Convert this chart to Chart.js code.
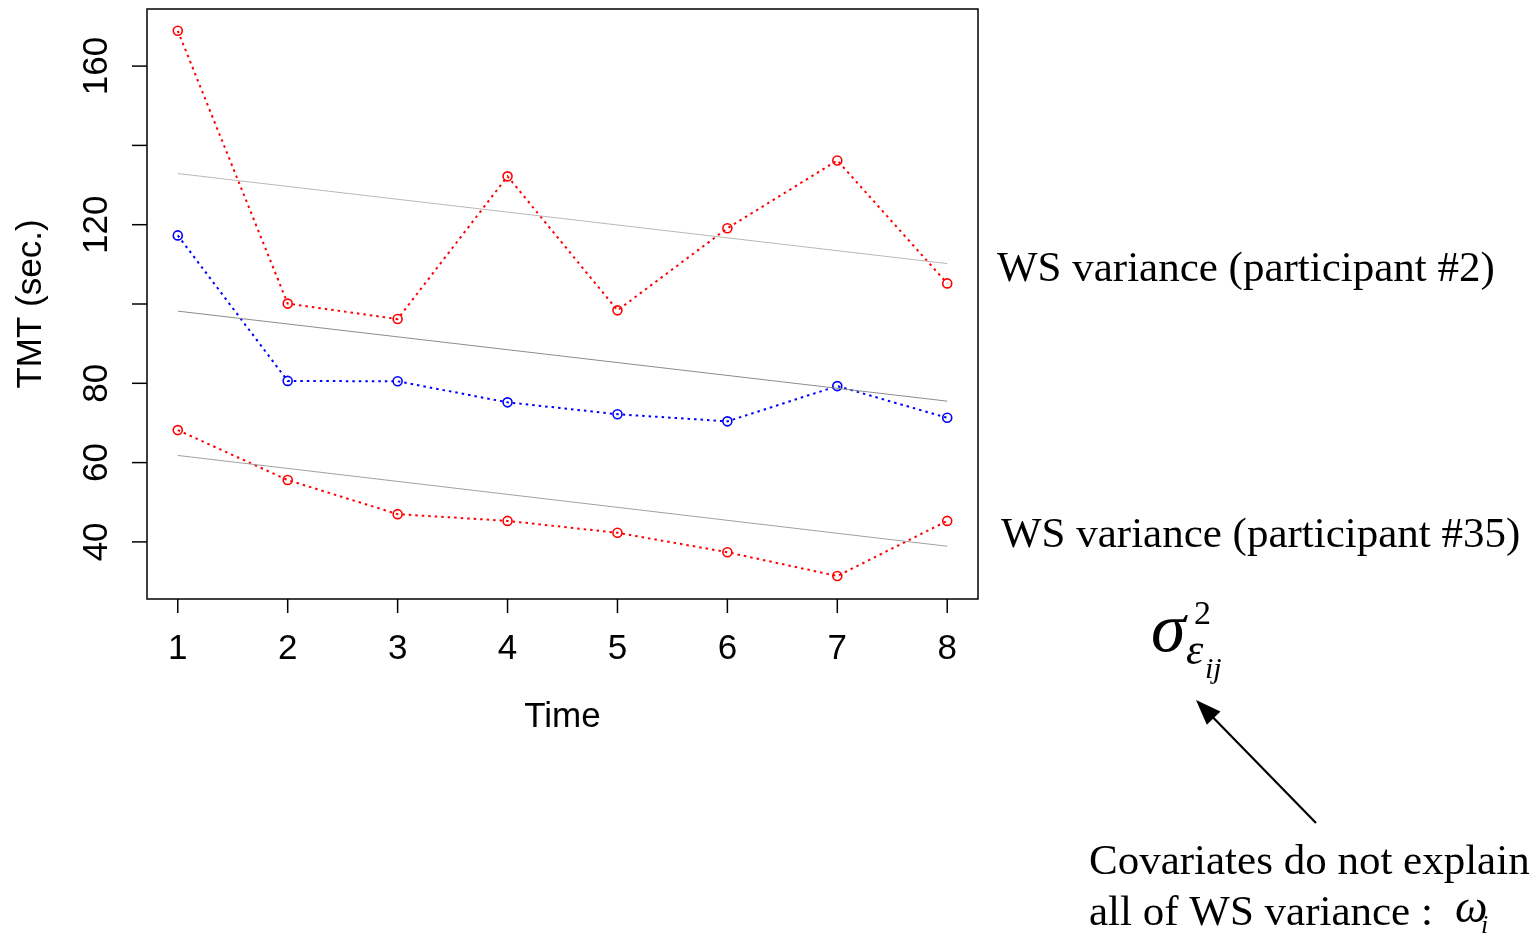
<!DOCTYPE html>
<html>
<head>
<meta charset="utf-8">
<script src="https://cdn.jsdelivr.net/npm/chart.js@4.4.1/dist/chart.umd.min.js"></script>
<style>
  html, body { margin: 0; padding: 0; background: #fff; }
  #tmt { display: block; }
</style>
</head>
<body>
<canvas id="tmt" width="1535" height="935"></canvas>
<script>
// TMT scores over 8 sessions, two participants plus a reference profile
var times          = [1, 2, 3, 4, 5, 6, 7, 8];
var participant2   = [168.9, 100.1, 96.2, 132.2, 98.4, 119.1, 136.2, 105.2];
var reference      = [117.3, 80.6, 80.5, 75.2, 72.2, 70.4, 79.3, 71.3];
var participant35  = [68.2, 55.6, 47.0, 45.3, 42.3, 37.4, 31.4, 45.3];

// fitted linear trends, evaluated at first and last session
var fitTimes  = [1, 8];
var fit2      = [132.9, 110.2];
var fitRef    = [98.2, 75.5];
var fit35     = [61.8, 38.9];

var xTicks      = [1, 2, 3, 4, 5, 6, 7, 8];
var yTicks      = [40, 60, 80, 100, 120, 140, 160];
var yTickLabels = ['40', '60', '80', '', '120', '', '160'];

function toPoints(xs, ys) {
  var pts = [];
  for (var i = 0; i < xs.length; i++) {
    pts.push({ x: xs[i], y: ys[i] });
  }
  return pts;
}

function dottedSeries(data, colour) {
  return {
    data: toPoints(times, data),
    borderColor: colour,
    borderWidth: 2,
    borderDash: [2.5, 4],
    pointRadius: 4.5,
    pointBorderWidth: 1.6,
    pointBorderColor: colour,
    pointBackgroundColor: 'rgba(0,0,0,0)',
    tension: 0
  };
}

function trendLine(data, colour) {
  return {
    data: toPoints(fitTimes, data),
    borderColor: colour,
    borderWidth: 1,
    pointRadius: 0,
    tension: 0
  };
}

// R-like box, ticks and labels, plus the side notes
var rAxes = {
  id: 'rAxes',
  afterDraw: function(chart) {
    var ctx  = chart.ctx;
    var area = chart.chartArea;
    var sx   = chart.scales.x;
    var sy   = chart.scales.y;

    ctx.save();
    ctx.strokeStyle = '#000';
    ctx.fillStyle = '#000';
    ctx.lineWidth = 1.5;
    ctx.strokeRect(area.left, area.top, area.right - area.left, area.bottom - area.top);

    ctx.font = '35px "Liberation Sans", Arial, sans-serif';
    ctx.textAlign = 'center';
    ctx.textBaseline = 'middle';

    xTicks.forEach(function(t) {
      var px = sx.getPixelForValue(t);
      ctx.beginPath();
      ctx.moveTo(px, area.bottom);
      ctx.lineTo(px, area.bottom + 14);
      ctx.stroke();
      ctx.fillText(String(t), px, 649);
    });

    yTicks.forEach(function(t, i) {
      var py = sy.getPixelForValue(t);
      ctx.beginPath();
      ctx.moveTo(area.left, py);
      ctx.lineTo(area.left - 15, py);
      ctx.stroke();
      if (yTickLabels[i]) {
        ctx.save();
        ctx.translate(97, py);
        ctx.rotate(-Math.PI / 2);
        ctx.fillText(yTickLabels[i], 0, 0);
        ctx.restore();
      }
    });

    ctx.fillText('Time', (area.left + area.right) / 2, 717);
    ctx.save();
    ctx.translate(31, (area.top + area.bottom) / 2);
    ctx.rotate(-Math.PI / 2);
    ctx.fillText('TMT (sec.)', 0, 0);
    ctx.restore();

    // annotations on the right
    ctx.textAlign = 'left';
    ctx.textBaseline = 'alphabetic';
    ctx.font = '43px "Liberation Serif", "Times New Roman", serif';
    ctx.fillText('WS variance (participant #2)', 997, 281);
    ctx.fillText('WS variance (participant #35)', 1001, 547);
    ctx.fillText('Covariates do not explain', 1089, 874);
    ctx.fillText('all of WS variance :', 1089, 925);

    ctx.font = 'italic 46px "Liberation Serif", serif';
    ctx.fillText('\u03C9', 1455, 922);
    ctx.font = 'italic 26px "Liberation Serif", serif';
    ctx.fillText('i', 1481, 933);

    ctx.font = 'italic 70px "Liberation Serif", serif';
    ctx.fillText('\u03C3', 1151, 651);
    ctx.font = '34px "Liberation Serif", serif';
    ctx.fillText('2', 1194, 624);
    ctx.font = 'italic 44px "Liberation Serif", serif';
    ctx.fillText('\u03B5', 1186, 664);
    ctx.font = 'italic 30px "Liberation Serif", serif';
    ctx.fillText('ij', 1205, 678);

    // arrow pointing at sigma
    var x0 = 1316, y0 = 823, x1 = 1196, y1 = 700;
    var ang = Math.atan2(y1 - y0, x1 - x0);
    ctx.lineWidth = 2.2;
    ctx.beginPath();
    ctx.moveTo(x0, y0);
    ctx.lineTo(x1 - 14 * Math.cos(ang), y1 - 14 * Math.sin(ang));
    ctx.stroke();
    ctx.beginPath();
    ctx.moveTo(x1, y1);
    ctx.lineTo(x1 - 27 * Math.cos(ang - 0.36), y1 - 27 * Math.sin(ang - 0.36));
    ctx.lineTo(x1 - 27 * Math.cos(ang + 0.36), y1 - 27 * Math.sin(ang + 0.36));
    ctx.closePath();
    ctx.fill();

    ctx.restore();
  }
};

new Chart(document.getElementById('tmt'), {
  type: 'line',
  data: {
    datasets: [
      trendLine(fit2, '#b8b8b8'),
      trendLine(fitRef, '#8c8c8c'),
      trendLine(fit35, '#a0a0a0'),
      dottedSeries(participant2, '#ff0000'),
      dottedSeries(reference, '#0000ff'),
      dottedSeries(participant35, '#ff0000')
    ]
  },
  options: {
    responsive: false,
    animation: false,
    layout: { padding: { left: 147, top: 9, right: 557, bottom: 336 } },
    plugins: { legend: { display: false }, tooltip: { enabled: false } },
    scales: {
      x: { type: 'linear', min: 0.72, max: 8.28, display: false },
      y: { type: 'linear', min: 25.6, max: 174.4, display: false }
    }
  },
  plugins: [rAxes]
});
</script>
</body>
</html>
